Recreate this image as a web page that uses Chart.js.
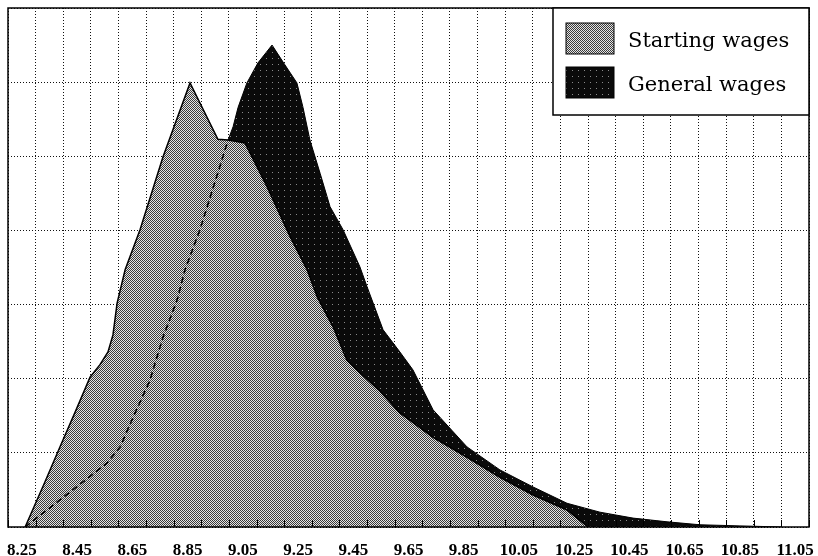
<!DOCTYPE html>
<html>
<head>
<meta charset="utf-8">
<title>Starting wages vs general wages</title>
<script src="https://cdn.jsdelivr.net/npm/chart.js@4.4.1/dist/chart.umd.min.js"></script>
<style>
  html, body { margin: 0; padding: 0; background: #fff; }
  #wrap { width: 818px; height: 556px; }
</style>
</head>
<body>
<div id="wrap"><canvas id="myChart" width="818" height="556"></canvas></div>
<script>
// values (x = wage, y = density, arbitrary units 0..7)
var startX = [8.262, 8.334, 8.388, 8.443, 8.497, 8.533, 8.562, 8.580, 8.595, 8.624,
              8.678, 8.761, 8.859, 8.960, 8.997, 9.058, 9.138, 9.221, 9.283, 9.320,
              9.377, 9.427, 9.474, 9.547, 9.619, 9.739, 9.862, 9.981, 10.101, 10.224, 10.300];
var startY = [0, 0.61, 1.08, 1.55, 2.02, 2.19, 2.36, 2.59, 3.02, 3.47,
              4.01, 4.99, 5.99, 5.23, 5.22, 5.18, 4.59, 3.92, 3.47, 3.10,
              2.70, 2.25, 2.08, 1.83, 1.54, 1.21, 0.94, 0.67, 0.43, 0.23, 0];

var generalX = [8.262, 8.558, 8.606, 8.653, 8.714, 8.761, 8.812, 8.841, 8.895, 8.997,
                9.015, 9.033, 9.065, 9.105, 9.156, 9.196, 9.246, 9.268, 9.293, 9.330,
                9.366, 9.413, 9.474, 9.500, 9.558, 9.619, 9.666, 9.739, 9.862, 9.981,
                10.101, 10.224, 10.343, 10.463, 10.586, 10.705, 10.850, 11.002];
var generalY = [0, 0.86, 1.08, 1.48, 1.98, 2.56, 3.06, 3.47, 4.01, 5.22,
                5.40, 5.66, 5.99, 6.26, 6.50, 6.27, 5.99, 5.66, 5.22, 4.77,
                4.32, 4.01, 3.51, 3.24, 2.66, 2.36, 2.12, 1.58, 1.08, 0.77,
                0.54, 0.32, 0.20, 0.12, 0.07, 0.03, 0.015, 0];

var tickLabels = ['8.25', '8.45', '8.65', '8.85', '9.05', '9.25', '9.45', '9.65',
                  '9.85', '10.05', '10.25', '10.45', '10.65', '10.85', '11.05'];

var seriesNames = ['Starting wages', 'General wages'];

function toPoints(xs, ys) {
  return xs.map(function (x, i) { return { x: x, y: ys[i] }; });
}

// halftone-ish fills like the scanned figure
function makePattern(dark, light, isDark) {
  var c = document.createElement('canvas');
  c.width = 6; c.height = 6;
  var g = c.getContext('2d');
  g.fillStyle = light;
  g.fillRect(0, 0, 6, 6);
  g.fillStyle = dark;
  for (var y = 0; y < 6; y++) {
    for (var x = 0; x < 6; x++) {
      if (isDark(x, y)) g.fillRect(x, y, 1, 1);
    }
  }
  return g.createPattern(c, 'repeat');
}
var ctx0 = document.getElementById('myChart').getContext('2d');
var grayFill = makePattern('#3a3a3a', '#e4e4e4', function (x, y) { return (x + y) % 2 === 0; });
var blackFill = makePattern('#8a8a8a', '#0a0a0a', function (x, y) { return x === 2 && y === 4; });

var dashed = toPoints(generalX.slice(0, 10), generalY.slice(0, 10));

var framePlugin = {
  id: 'frame',
  afterDatasetsDraw: function (chart) {
    var ctx = chart.ctx, a = chart.chartArea, sx = chart.scales.x;
    ctx.save();
    // small inward ticks on the bottom axis
    ctx.strokeStyle = '#000';
    ctx.lineWidth = 1;
    sx.ticks.forEach(function (t) {
      var px = Math.round(sx.getPixelForValue(t.value)) + 0.5;
      ctx.beginPath();
      ctx.moveTo(px, a.bottom);
      ctx.lineTo(px, a.bottom - 7);
      ctx.stroke();
    });
    ctx.lineWidth = 1.5;
    ctx.strokeRect(a.left, a.top, a.right - a.left, a.bottom - a.top);

    // legend box, top right inside the plot
    var bw = 256, bh = 107;
    var bx = a.right - bw, by = a.top;
    ctx.fillStyle = '#fff';
    ctx.fillRect(bx, by, bw, bh);
    ctx.lineWidth = 1.5;
    ctx.strokeRect(bx, by, bw, bh);
    var fills = [grayFill, blackFill];
    ctx.font = '21px "DejaVu Serif"';
    ctx.textBaseline = 'alphabetic';
    for (var i = 0; i < 2; i++) {
      var sy = by + 15 + i * 44;
      ctx.fillStyle = fills[i];
      ctx.fillRect(bx + 13, sy, 48, 31);
      ctx.lineWidth = 1;
      ctx.strokeStyle = '#000';
      ctx.strokeRect(bx + 13, sy, 48, 31);
      ctx.fillStyle = '#000';
      ctx.fillText(seriesNames[i], bx + 75, sy + 24);
    }
    ctx.restore();
  }
};

new Chart(ctx0, {
  type: 'line',
  data: {
    datasets: [
      {
        label: seriesNames[0],
        data: toPoints(startX, startY),
        fill: 'origin',
        backgroundColor: grayFill,
        borderColor: '#000',
        borderWidth: 1.5,
        pointRadius: 0,
        tension: 0,
        order: 1
      },
      {
        label: seriesNames[1],
        data: toPoints(generalX, generalY),
        fill: 'origin',
        backgroundColor: blackFill,
        borderColor: '#000',
        borderWidth: 1,
        pointRadius: 0,
        tension: 0,
        order: 2
      },
      {
        label: 'hidden edge',
        data: dashed,
        fill: false,
        borderColor: '#000',
        borderWidth: 1.6,
        borderDash: [6, 4],
        pointRadius: 0,
        tension: 0,
        order: 0
      }
    ]
  },
  options: {
    responsive: false,
    animation: false,
    devicePixelRatio: 1,
    layout: { padding: { left: 8, right: 9, top: 8, bottom: 0 } },
    plugins: {
      legend: { display: false },
      tooltip: { enabled: false }
    },
    scales: {
      x: {
        type: 'linear',
        min: 8.2,
        max: 11.1,
        position: 'bottom',
        weight: 2,
        ticks: { display: false, stepSize: 0.1 },
        grid: { color: '#111', lineWidth: 1, drawTicks: false },
        border: { display: false, dash: [1, 2] },
        afterFit: function (s) { s.height = 0; s.paddingLeft = 0; s.paddingRight = 0; }
      },
      x2: {
        type: 'linear',
        min: 8.2,
        max: 11.1,
        position: 'bottom',
        weight: 1,
        afterBuildTicks: function (s) {
          s.ticks = tickLabels.map(function (t) { return { value: parseFloat(t) }; });
        },
        ticks: {
          autoSkip: false,
          maxRotation: 0,
          padding: 13,
          color: '#000',
          font: { family: 'Liberation Serif', size: 17, weight: 'bold' },
          callback: function (v, i) { return tickLabels[i]; }
        },
        grid: { display: false, drawTicks: false },
        border: { display: false },
        afterFit: function (s) { s.height = 29; s.paddingLeft = 0; s.paddingRight = 0; }
      },
      y: {
        min: 0,
        max: 7,
        ticks: { display: false, stepSize: 1 },
        grid: { color: '#111', lineWidth: 1, drawTicks: false },
        border: { display: false, dash: [1, 2] },
        afterFit: function (s) { s.width = 0; s.paddingTop = 0; s.paddingBottom = 0; }
      }
    }
  },
  plugins: [framePlugin]
});
</script>
</body>
</html>
